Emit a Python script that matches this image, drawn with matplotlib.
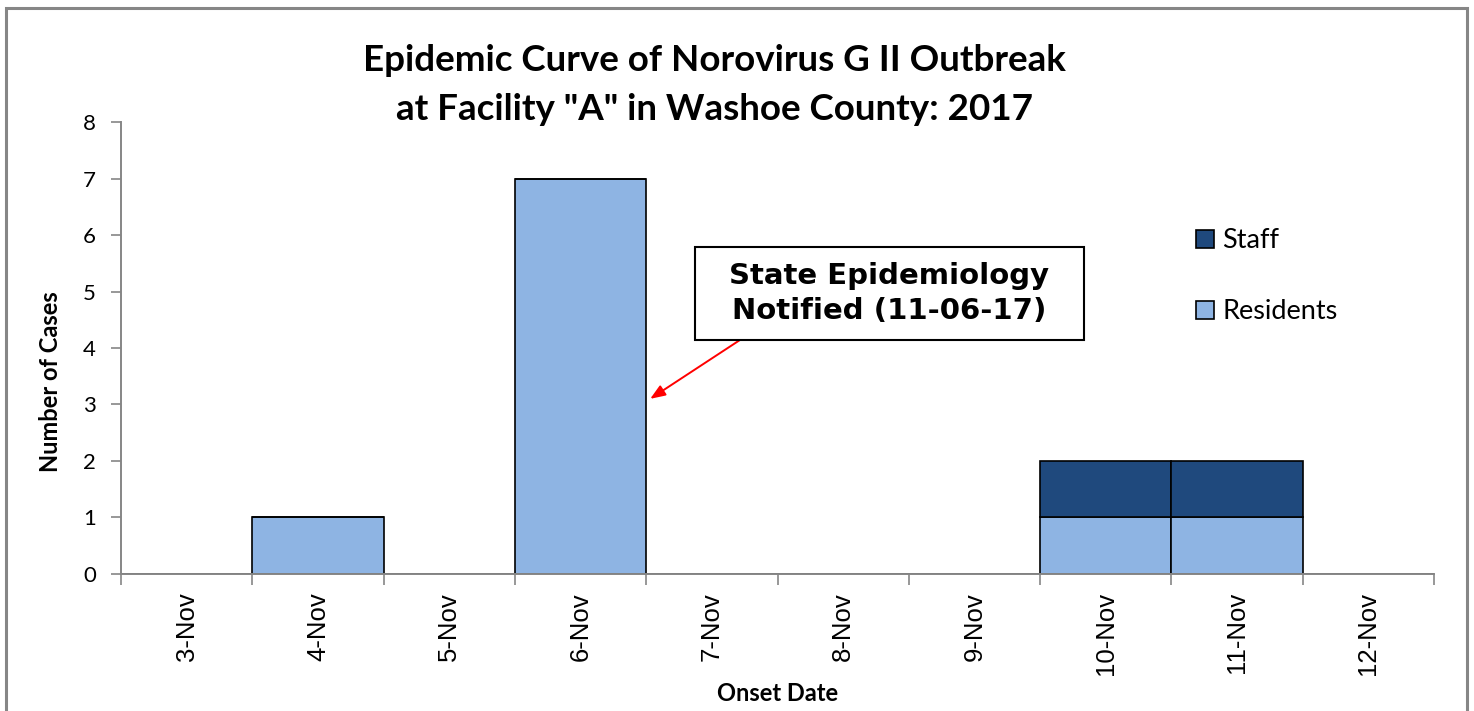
import numpy as np
import matplotlib
matplotlib.use('Agg')
import matplotlib.pyplot as plt
from matplotlib.patches import Rectangle, Patch

# data
onset_dates = ['3-Nov', '4-Nov', '5-Nov', '6-Nov', '7-Nov',
               '8-Nov', '9-Nov', '10-Nov', '11-Nov', '12-Nov']
residents = [0, 1, 0, 7, 0, 0, 0, 1, 1, 0]
staff = [0, 0, 0, 0, 0, 0, 0, 1, 1, 0]

resident_color = '#8EB4E3'
staff_color = '#1F497D'
axis_gray = '#868686'

fig = plt.figure(figsize=(14.74, 7.11), dpi=100)
ax = fig.add_axes([0.0821, 0.1927, 0.8908, 0.6357])

x = np.arange(len(onset_dates))
ax.bar(x, residents, width=1.0, color=resident_color, edgecolor='black', linewidth=1.2)
ax.bar(x, staff, width=1.0, bottom=residents, color=staff_color, edgecolor='black', linewidth=1.2)

ax.set_xlim(-0.5, len(onset_dates) - 0.5)
ax.set_ylim(0, 8)

# tick marks at category boundaries, labels at category centres
ax.set_xticks(np.arange(-0.5, len(onset_dates)), labels=[])
ax.set_xticks(x, labels=onset_dates, minor=True)
ax.tick_params(axis='x', which='major', direction='out', length=8, width=1.2, color=axis_gray)
ax.tick_params(axis='x', which='minor', length=0, pad=13)
for lbl in ax.get_xticklabels(minor=True):
    lbl.set_rotation(90)
    lbl.set_fontfamily('Liberation Sans')
    lbl.set_fontsize(18.5)

ax.set_yticks(range(0, 9))
ax.tick_params(axis='y', direction='out', length=7, width=1.2, color=axis_gray, pad=11, labelsize=16)
for lbl in ax.get_yticklabels():
    lbl.set_fontfamily('Lato')

for side in ['top', 'right']:
    ax.spines[side].set_visible(False)
for side in ['left', 'bottom']:
    ax.spines[side].set_color(axis_gray)
    ax.spines[side].set_linewidth(1.4)

ax.set_ylabel('Number of Cases', fontfamily='Lato', fontweight='bold', fontsize=17)
ax.yaxis.set_label_coords(-0.045, 0.425)
ax.set_xlabel('Onset Date', fontfamily='Lato', fontweight='bold', fontsize=17, labelpad=5)

fig.text(0.485, 0.8805, 'Epidemic Curve of Norovirus G II Outbreak\nat Facility "A" in Washoe County: 2017',
         ha='center', va='center', fontfamily='Lato', fontweight='bold', fontsize=26.5, linespacing=1.6)

handles = [Patch(facecolor=staff_color, edgecolor='black', linewidth=1.2, label='Staff'),
           Patch(facecolor=resident_color, edgecolor='black', linewidth=1.2, label='Residents')]
leg = ax.legend(handles=handles, loc='upper left', bbox_to_anchor=(0.8005, 0.819), frameon=False,
                prop={'family': 'Lato', 'size': 19.5}, handlelength=0.65, handleheight=0.65,
                handletextpad=0.3, labelspacing=1.7)

# annotation: box, text and red arrow
ax.add_patch(Rectangle((3.872, 4.142), 2.962, 1.646, facecolor='white', edgecolor='black',
                       linewidth=1.5, zorder=4))
ax.text(5.353, 4.965, 'State Epidemiology\nNotified (11-06-17)', ha='center', va='center',
        fontfamily='DejaVu Sans', fontweight='bold', fontsize=21, linespacing=1.35, zorder=5)
ax.annotate('', xy=(3.53, 3.1), xytext=(4.214, 4.142),
            arrowprops=dict(arrowstyle='-|>,head_length=0.9,head_width=0.35', color='red', lw=1.4,
                            shrinkA=0, shrinkB=0))

# outer chart border
border = Rectangle((6 / 1474, -0.05), 1461 / 1474, 1.05 - 8 / 711, transform=fig.transFigure,
                   fill=False, edgecolor=axis_gray, linewidth=2.2, clip_on=False)
fig.patches.append(border)

fig.savefig('out.png', dpi=100)
